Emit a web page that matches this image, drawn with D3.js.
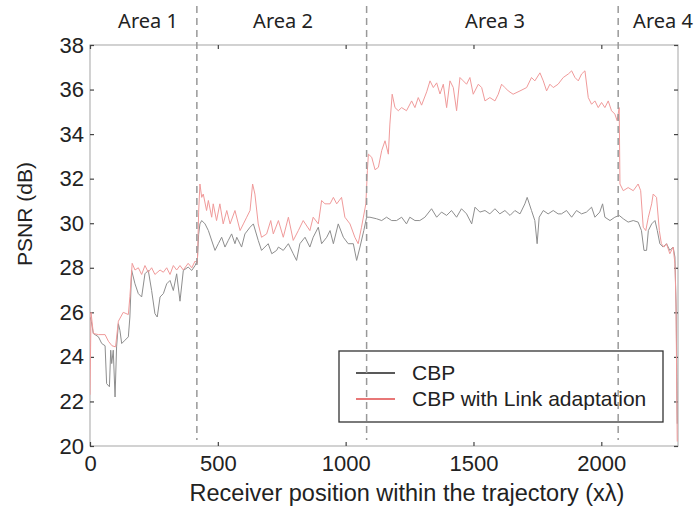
<!DOCTYPE html>
<html>
<head>
<meta charset="utf-8">
<script src="https://cdn.jsdelivr.net/npm/d3@7"></script>
<style>
  body { margin: 0; background: #fff; }
  text { font-family: "Liberation Sans", Arial, sans-serif; fill: #222; }
</style>
</head>
<body>
<div id="chart"></div>
<script>

// positions (x lambda) and PSNR values
var cbpX = [0, 5, 13, 33, 46, 59, 65, 76, 81, 85, 91, 98, 104, 111, 117, 124, 137, 150, 156, 163, 176, 189, 202, 215, 228, 241, 254, 263, 274, 287, 300, 313, 326, 339, 352, 365, 384, 398, 411, 420,
    425, 430, 437, 450, 463, 489, 502, 515, 528, 541, 554, 567, 574, 593, 606, 626, 639, 658, 671, 684, 697, 711, 730,
    737, 756, 776, 795, 808, 821, 841, 860, 873, 893, 906, 926, 939, 952, 971, 991, 1010, 1030, 1043, 1056, 1071, 1082,
    1095, 1121, 1141, 1160, 1180, 1199, 1219, 1238, 1251, 1271, 1290, 1310, 1336, 1356, 1375, 1395, 1414, 1434, 1453, 1473, 1493, 1506, 1525, 1545, 1564, 1584, 1603, 1623, 1643, 1662, 1682, 1701, 1710, 1727, 1740, 1749, 1757, 1773, 1792, 1812, 1831,
    1844, 1864, 1884, 1903, 1923, 1942, 1962, 1975, 1994, 2005, 2014, 2034, 2053, 2070,
    2086, 2105, 2125, 2144, 2157, 2167, 2177, 2184, 2197, 2210, 2219, 2229, 2242, 2255, 2268, 2281, 2288, 2293, 2297];
var cbpY = [25.8, 25.6, 25.05, 24.9, 24.6, 24.5, 22.8, 22.66, 24.3, 23.7, 24.3, 22.2, 24.45, 25.49, 25.19, 24.6, 24.75, 24.9, 25.79, 27.88, 27.28, 26.84, 26.69, 27.73, 27.88, 26.98, 25.94, 25.79, 26.69, 26.84, 27.28, 27.43, 26.98, 27.73, 26.5, 27.88, 28.03, 27.88, 28.1, 28.33,
    29.5, 29.97, 30.12, 29.97, 29.67, 28.78, 29.08, 29.37, 28.93, 29.23, 29.52, 29.08, 29.37, 28.93, 29.52, 29.82, 29.97, 29.23, 28.78, 28.93, 29.08, 28.63, 28.78,
    28.93, 28.78, 29.08, 28.63, 28.33, 29.08, 29.37, 28.93, 29.37, 29.82, 29.08, 29.37, 29.67, 29.08, 29.97, 29.37, 29.08, 29.08, 28.33, 28.93, 29.67, 30.27,
    30.27, 30.2, 30.12, 30.27, 30.12, 30.12, 30.27, 29.97, 30.27, 30.12, 30.12, 30.27, 30.65, 30.27, 30.5, 30.35, 30.57, 30.27, 30.65, 30.42, 29.97, 30.72, 30.5, 30.57, 30.42, 30.65, 30.42, 30.57, 30.35, 30.57, 30.42, 30.87, 31.16, 30.57, 30.12, 29.08, 30.27, 30.57, 30.42, 30.57, 30.42,
    30.42, 30.57, 30.27, 30.57, 30.42, 30.5, 30.72, 30.27, 30.5, 30.87, 30.27, 30.12, 30.27, 30.35,
    30.2, 30.05, 30.12, 30.05, 29.67, 28.78, 28.78, 29.67, 29.97, 30.12, 29.67, 29.08, 28.93, 29.08, 28.78, 28.93, 28.48, 26.0, 21.0];

var linkX = [0, 4, 13, 33, 59, 72, 86, 100, 111, 130, 150, 156, 165, 176, 189, 202, 215, 228, 241, 254, 274, 287, 300, 313, 326, 339, 352, 365, 384, 398, 411, 420,
    425, 430, 437, 443, 456, 463, 476, 482, 495, 508, 521, 535, 548, 567, 587, 600, 613, 626, 636, 645, 658, 671, 691, 707, 717,
    737, 756, 776, 795, 815, 834, 860, 873, 893, 906, 919, 939, 952, 965, 984, 997, 1017, 1036, 1049, 1062, 1079,
    1085, 1089, 1102, 1115, 1128, 1141, 1154, 1167, 1173, 1182, 1193, 1206, 1219, 1238, 1258, 1271, 1284, 1297, 1317, 1330, 1343, 1356, 1369, 1382, 1395, 1408, 1421, 1434, 1447, 1460, 1473, 1486, 1499, 1519, 1532, 1545, 1564, 1584, 1597, 1610, 1623, 1636, 1655, 1682, 1708, 1727, 1740, 1760, 1773, 1786, 1799, 1812, 1831,
    1851, 1871, 1884, 1897, 1910, 1923, 1936, 1949, 1962, 1975, 1988, 2001, 2014, 2027, 2040, 2053, 2062, 2070,
    2073, 2086, 2105, 2125, 2144, 2154, 2164, 2174, 2184, 2197, 2203, 2216, 2227, 2235, 2245, 2255, 2268, 2281, 2288, 2292, 2297];
var linkY = [22.3, 26.0, 25.05, 25.0, 25.0, 24.7, 24.5, 24.45, 25.6, 26.0, 25.9, 26.7, 28.2, 27.9, 28.0, 27.7, 28.1, 27.8, 28.0, 27.7, 27.9, 27.8, 28.0, 27.7, 28.1, 27.9, 28.1, 27.9, 28.2, 28.0, 28.3, 28.2,
    30.5, 31.76, 31.16, 31.31, 30.57, 31.02, 30.27, 30.87, 30.12, 30.87, 29.97, 30.57, 29.97, 30.57, 29.67, 29.97, 30.27, 30.57, 31.76, 31.31, 29.97, 29.37, 29.52, 30.12, 29.52,
    30.12, 29.37, 30.27, 29.23, 29.67, 30.12, 29.67, 30.27, 29.97, 31.02, 30.87, 30.87, 31.16, 30.87, 31.16, 30.27, 29.97, 29.37, 29.08, 29.82, 30.87,
    32.36, 33.1, 32.96, 32.4, 32.51, 33.26, 33.7, 33.1, 34.45, 35.79, 35.19, 35.05, 35.19, 35.05, 35.49, 35.19, 35.64, 35.3, 35.9, 36.39, 36.09, 36.3, 35.8, 36.24, 35.19, 36.39, 36.09, 35.05, 36.54, 36.39, 36.24, 36.54, 35.79, 36.24, 36.09, 35.49, 35.64, 35.49, 35.79, 36.24, 36.09, 35.94, 35.79, 35.94, 36.09, 36.54, 36.39, 36.75, 36.39, 35.94, 36.24, 36.09, 36.24,
    36.54, 36.7, 36.84, 36.54, 36.39, 36.7, 36.84, 35.64, 35.34, 35.49, 35.19, 35.42, 35.19, 35.49, 35.05, 34.9, 34.6, 35.19,
    31.76, 31.46, 31.6, 31.46, 31.76, 31.46, 29.82, 29.67, 30.27, 30.87, 31.31, 31.16, 29.67, 29.08, 28.93, 29.08, 28.63, 28.93, 28.18, 26.5, 20.2];

var areaEdges = [418, 1082, 2066];
var areaNames = ["Area 1", "Area 2", "Area 3", "Area 4"];
var areaLabelX = [148, 283, 495, 663];   // pixel centres of the area captions
var xTicks = [0, 500, 1000, 1500, 2000];
var yTicks = [20, 22, 24, 26, 28, 30, 32, 34, 36, 38];
var seriesNames = ["CBP", "CBP with Link adaptation"];

var width = 694, height = 510;
var plotLeft = 90, plotRight = 678, plotTop = 45, plotBottom = 446;

var svg = d3.select("#chart").append("svg")
    .attr("width", width)
    .attr("height", height);

var xScale = d3.scaleLinear().domain([0, 2300]).range([plotLeft, plotRight]);
var yScale = d3.scaleLinear().domain([20, 38]).range([plotBottom, plotTop]);

svg.append("clipPath").attr("id", "plotclip")
    .append("rect")
    .attr("x", plotLeft).attr("y", plotTop)
    .attr("width", plotRight - plotLeft).attr("height", plotBottom - plotTop);

// frame
svg.append("rect")
    .attr("x", plotLeft).attr("y", plotTop)
    .attr("width", plotRight - plotLeft).attr("height", plotBottom - plotTop)
    .attr("fill", "none")
    .attr("stroke", "#b4b4b4")
    .attr("stroke-width", 1.2);

// axes with inward ticks
var gx = svg.append("g").attr("transform", "translate(0," + plotBottom + ")")
    .call(d3.axisBottom(xScale).tickValues(xTicks).tickFormat(d3.format("d"))
        .tickSizeInner(-4).tickSizeOuter(0).tickPadding(9));
var gy = svg.append("g").attr("transform", "translate(" + plotLeft + ",0)")
    .call(d3.axisLeft(yScale).tickValues(yTicks).tickFormat(d3.format("d"))
        .tickSizeInner(-4).tickSizeOuter(0).tickPadding(6));
var gxt = svg.append("g").attr("transform", "translate(0," + plotTop + ")")
    .call(d3.axisTop(xScale).tickValues(xTicks).tickSizeInner(-4).tickSizeOuter(0).tickFormat(""));
var gyr = svg.append("g").attr("transform", "translate(" + plotRight + ",0)")
    .call(d3.axisRight(yScale).tickValues(yTicks).tickSizeInner(-4).tickSizeOuter(0).tickFormat(""));

[gx, gy, gxt, gyr].forEach(function (g) {
    g.select(".domain").remove();
    g.selectAll(".tick line").attr("stroke", "#444").attr("stroke-width", 1.2);
    g.selectAll(".tick text")
        .style("font-family", "'Liberation Sans', Arial, sans-serif")
        .style("font-size", "22px")
        .attr("fill", "#222");
});

svg.selectAll(".area-label").data(areaNames).enter().append("text")
    .attr("x", function (d, i) { return areaLabelX[i]; })
    .attr("y", 28)
    .attr("text-anchor", "middle")
    .style("font-family", "'Noto Sans', 'Open Sans', sans-serif")
    .style("font-size", "20px")
    .text(function (d) { return d; });

// series
function toPoints(xs, ys) {
    return xs.map(function (x, i) { return [x, ys[i]]; });
}
var line = d3.line()
    .x(function (d) { return xScale(d[0]); })
    .y(function (d) { return yScale(d[1]); });

var plot = svg.append("g").attr("clip-path", "url(#plotclip)");
plot.append("path")
    .attr("d", line(toPoints(cbpX, cbpY)))
    .attr("fill", "none")
    .attr("stroke", "#8e8e8e")
    .attr("stroke-width", 1);
plot.append("path")
    .attr("d", line(toPoints(linkX, linkY)))
    .attr("fill", "none")
    .attr("stroke", "#f09a9a")
    .attr("stroke-width", 1);

// legend
var legend = svg.append("g");
legend.append("rect")
    .attr("x", 339).attr("y", 351)
    .attr("width", 324).attr("height", 71)
    .attr("fill", "#fff")
    .attr("stroke", "#333")
    .attr("stroke-width", 1.3);
var legendColors = ["#222", "#e04a4a"];
seriesNames.forEach(function (name, i) {
    var ly = 373 + i * 26;
    legend.append("line")
        .attr("x1", 356).attr("x2", 395)
        .attr("y1", ly).attr("y2", ly)
        .attr("stroke", legendColors[i])
        .attr("stroke-width", 1.5);
    legend.append("text")
        .attr("x", 412).attr("y", ly + 7)
        .style("font-size", "21px")
        .text(name);
});

// area separators, drawn over the legend as in the original
svg.selectAll(".sep").data(areaEdges).enter().append("line")
    .attr("x1", function (d) { return xScale(d); })
    .attr("x2", function (d) { return xScale(d); })
    .attr("y1", 6)
    .attr("y2", 440)
    .attr("stroke", "#999")
    .attr("stroke-width", 1.5)
    .attr("stroke-dasharray", "7,5");

// axis titles
svg.append("text")
    .attr("transform", "translate(32,214) rotate(-90)")
    .attr("text-anchor", "middle")
    .style("font-size", "21px")
    .text("PSNR (dB)");
svg.append("text")
    .attr("x", 407).attr("y", 501)
    .attr("text-anchor", "middle")
    .style("font-size", "23.5px")
    .text("Receiver position within the trajectory (xλ)");

</script>
</body>
</html>
